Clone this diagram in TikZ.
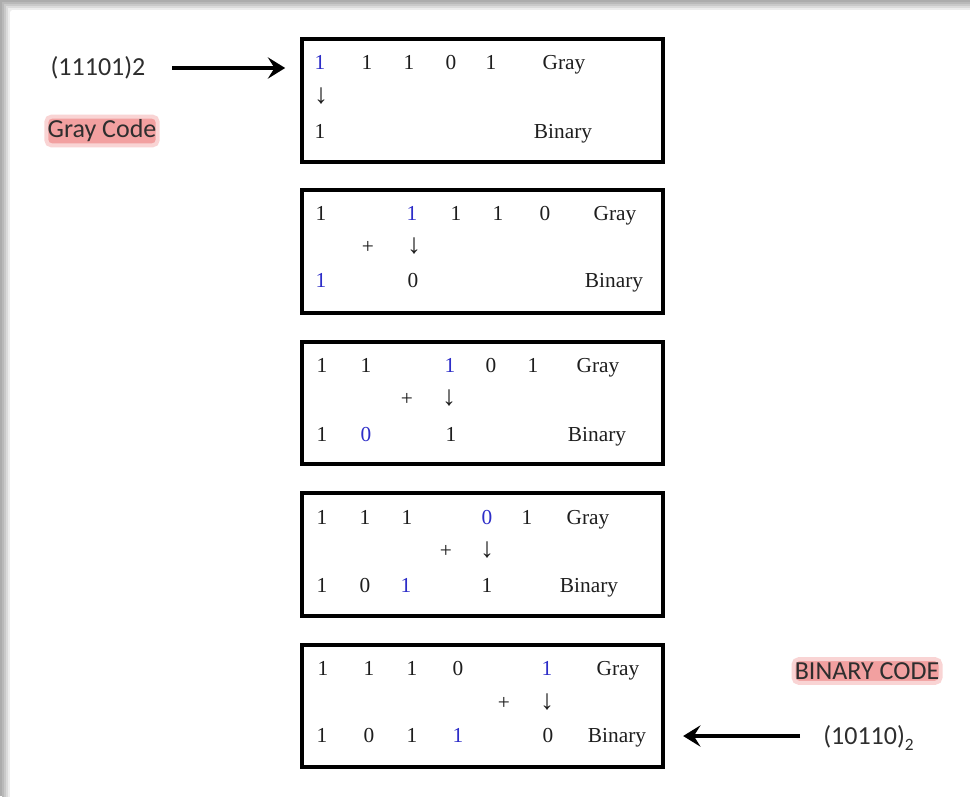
\documentclass[tikz,border=0pt]{standalone}
\usepackage{fontspec}
\setmainfont{Liberation Serif}
\newfontfamily\calibfont{Carlito}
\usetikzlibrary{arrows.meta}
\definecolor{ink}{HTML}{1E1E1E}
\definecolor{blueink}{RGB}{45,45,200}
\definecolor{hl}{RGB}{242,160,160}
\definecolor{labelink}{HTML}{2E2E2E}
\tikzset{
  dg/.style={anchor=base, inner sep=0pt, text=ink, font=\fontsize{16}{16}\selectfont},
  bd/.style={dg, text=blueink},
  op/.style={inner sep=0pt, text=ink, font=\fontsize{16}{16}\selectfont},
  down/.style={inner sep=0pt, text=ink, font=\fontsize{21}{21}\selectfont},
  stagebox/.style={draw=black, line width=3pt, minimum width=271pt, minimum height=92pt, inner sep=0pt},
  lab/.style={inner sep=0pt, text=labelink, font=\calibfont\fontsize{19.5}{19.5}\selectfont},
  hlbox/.style={fill=hl, draw=hl!45, line width=3pt, rounded corners=4pt, inner xsep=1pt, inner ysep=2.5pt},
  bigarrow/.style={line width=3.4pt, -{Stealth[length=13pt,width=16pt,inset=5pt]}},
}
\begin{document}
\begin{tikzpicture}[x=0.75pt, y=-0.75pt]
\useasboundingbox (0,0) rectangle (970,796);
% soft grey frame along the top and left edges
\fill[gray!65] (0,0) rectangle (970,796);
\fill[gray!55] (2,2) rectangle (972,798);
\fill[gray!42] (4,4) rectangle (974,800);
\fill[gray!28] (6,6) rectangle (976,802);
\fill[gray!14] (8,8) rectangle (978,804);
\fill[white, rounded corners=2pt] (10,10) rectangle (980,806);

% the five stages
\node[stagebox] (b1) at (482.5,100.5) {};
\node[stagebox] (b2) at (482.5,251.5) {};
\node[stagebox] (b3) at (482.5,403) {};
\node[stagebox] (b4) at (482.5,554.5) {};
\node[stagebox] (b5) at (482.5,706) {};

% stage 1
\node[bd] (s1g1) at (320,69) {1};
\node[dg] (s1g2) at (367,69) {1};
\node[dg] (s1g3) at (409,69) {1};
\node[dg] (s1g4) at (451,69) {0};
\node[dg] (s1g5) at (491,69) {1};
\node[dg] (s1gl) at (564,69) {Gray};
\node[down] (s1ar) at (321,96) {↓};
\node[dg] (s1b1) at (320,138) {1};
\node[dg] (s1bl) at (563,138) {Binary};

% stage 2
\node[dg] (s2g1) at (321,220) {1};
\node[bd] (s2g2) at (412,220) {1};
\node[dg] (s2g3) at (456,220) {1};
\node[dg] (s2g4) at (498,220) {1};
\node[dg] (s2g5) at (545,220) {0};
\node[dg] (s2gl) at (615,220) {Gray};
\node[op] (s2pl) at (368,247) {+};
\node[down] (s2ar) at (414,246) {↓};
\node[bd] (s2b1) at (321,287) {1};
\node[dg] (s2b2) at (413,287) {0};
\node[dg] (s2bl) at (614,287) {Binary};

% stage 3
\node[dg] (s3g1) at (322,372) {1};
\node[dg] (s3g2) at (366,372) {1};
\node[bd] (s3g3) at (450,372) {1};
\node[dg] (s3g4) at (491,372) {0};
\node[dg] (s3g5) at (533,372) {1};
\node[dg] (s3gl) at (598,372) {Gray};
\node[op] (s3pl) at (407,399) {+};
\node[down] (s3ar) at (449,398) {↓};
\node[dg] (s3b1) at (322,441) {1};
\node[bd] (s3b2) at (366,441) {0};
\node[dg] (s3b3) at (451,441) {1};
\node[dg] (s3bl) at (597,441) {Binary};

% stage 4
\node[dg] (s4g1) at (322,524) {1};
\node[dg] (s4g2) at (365,524) {1};
\node[dg] (s4g3) at (407,524) {1};
\node[bd] (s4g4) at (487,524) {0};
\node[dg] (s4g5) at (527,524) {1};
\node[dg] (s4gl) at (588,524) {Gray};
\node[op] (s4pl) at (446,551) {+};
\node[down] (s4ar) at (487,550) {↓};
\node[dg] (s4b1) at (322,592) {1};
\node[dg] (s4b2) at (365,592) {0};
\node[bd] (s4b3) at (406,592) {1};
\node[dg] (s4b4) at (487,592) {1};
\node[dg] (s4bl) at (589,592) {Binary};

% stage 5
\node[dg] (s5g1) at (323,675) {1};
\node[dg] (s5g2) at (369,675) {1};
\node[dg] (s5g3) at (412,675) {1};
\node[dg] (s5g4) at (458,675) {0};
\node[bd] (s5g5) at (547,675) {1};
\node[dg] (s5gl) at (618,675) {Gray};
\node[op] (s5pl) at (504,703) {+};
\node[down] (s5ar) at (547,702) {↓};
\node[dg] (s5b1) at (322,742) {1};
\node[dg] (s5b2) at (369,742) {0};
\node[dg] (s5b3) at (412,742) {1};
\node[bd] (s5b4) at (458,742) {1};
\node[dg] (s5b5) at (548,742) {0};
\node[dg] (s5bl) at (617,742) {Binary};

% side labels
\node[lab] (gin) at (98,68) {(11101)2};
\node[lab, hlbox] (gname) at (102,131) {Gray Code};
\node[lab, hlbox] (bname) at (867,671) {BINARY CODE};
\node[lab, anchor=base west] (bout) at (823,744) {(10110)\raisebox{-4.5pt}{\fontsize{13}{13}\selectfont 2}};

% input and output arrows
\draw[bigarrow, shorten <=20pt, shorten >=11pt] (gin.east) -- (b1.west |- gin.east);
\coordinate (bt) at (800,736);
\draw[bigarrow, shorten >=13.5pt] (bt) -- (b5.east |- bt);
\end{tikzpicture}
\end{document}
